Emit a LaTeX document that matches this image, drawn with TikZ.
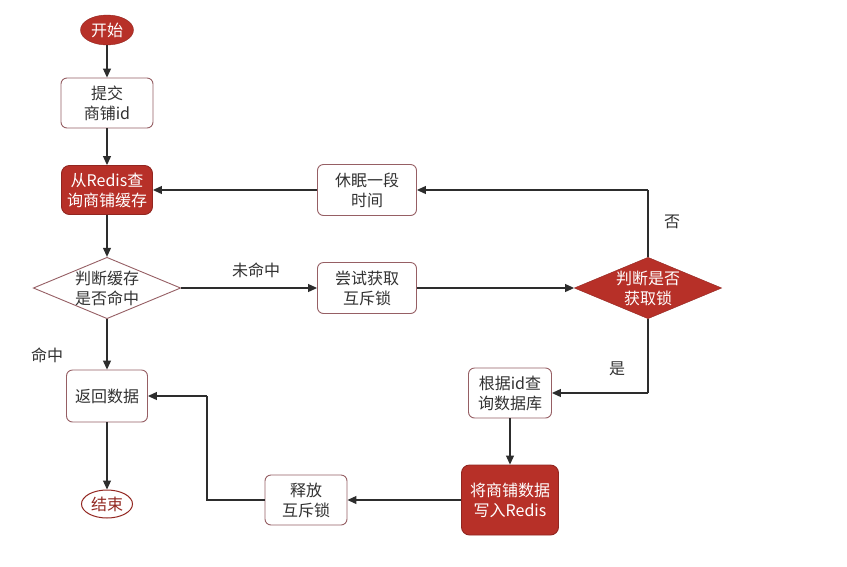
\documentclass[tikz,border=0pt]{standalone}
\usepackage{fontspec}
\setmainfont{Noto Sans CJK SC}
\usetikzlibrary{arrows.meta,shapes.geometric}
\definecolor{dred}{RGB}{183,48,40}
\definecolor{bord}{RGB}{150,95,100}
\definecolor{txt}{RGB}{50,50,50}
\definecolor{ln}{RGB}{45,45,45}
\begin{document}
\begin{tikzpicture}[x=1pt,y=-1pt,
  font=\fontsize{16}{20}\selectfont,
  box/.style={draw=bord,line width=0.9pt,rounded corners=6pt,fill=white,text=txt,align=center,inner sep=0pt},
  redbox/.style={draw=dred!80!black,line width=0.9pt,rounded corners=8pt,fill=dred,text=white,align=center,inner sep=0pt},
  dec/.style={diamond,draw=bord,line width=0.9pt,fill=white,text=txt,align=center,inner sep=0pt,aspect=2.4},
  lbl/.style={text=txt,inner sep=0pt},
  arr/.style={draw=ln,line width=1.1pt,-{Triangle[length=9pt,width=8pt]}},
  ln/.style={draw=ln,line width=1.1pt}]
\fill[white] (0,0) rectangle (847,566);
\useasboundingbox (0,0) rectangle (847,566);
\node[ellipse,draw=dred!80!black,fill=dred,text=white,minimum width=53pt,minimum height=30pt,inner sep=0pt] (start) at (107,30) {开始};
\node[box,minimum width=92pt,minimum height=50pt] (submit) at (107,103) {提交\\商铺id};
\node[redbox,minimum width=91pt,minimum height=49pt] (query) at (107,190) {从Redis查\\询商铺缓存};
\node[dec,minimum width=145pt,minimum height=60pt] (hit) at (107,288) {判断缓存\\是否命中};
\node[box,minimum width=81pt,minimum height=52pt] (ret) at (107,396) {返回数据};
\node[ellipse,draw=dred!80!black,line width=1pt,fill=white,text=dred!80!black,minimum width=51pt,minimum height=28pt,inner sep=0pt] (end) at (107,504) {结束};
\node[box,minimum width=99pt,minimum height=51pt] (sleep) at (367,190) {休眠一段\\时间};
\node[box,minimum width=99pt,minimum height=51pt] (try) at (367,288) {尝试获取\\互斥锁};
\node[diamond,draw=dred!80!black,fill=dred,text=white,align=center,inner sep=0pt,aspect=2.4,minimum width=143pt,minimum height=60pt] (got) at (648,288) {判断是否\\获取锁};
\node[box,minimum width=83pt,minimum height=50pt] (db) at (510,393) {根据id查\\询数据库};
\node[redbox,minimum width=97pt,minimum height=70pt] (write) at (510,500) {将商铺数据\\写入Redis};
\node[box,minimum width=82pt,minimum height=50pt] (rel) at (306,500) {释放\\互斥锁};
\coordinate (c1) at (648,190);
\coordinate (c2) at (648,393);
\coordinate (c3) at (207,500);
\coordinate (c4) at (207,396);
\draw[arr] (start) -- (submit);
\draw[arr] (submit) -- (query);
\draw[arr] (query) -- (hit);
\draw[arr] (hit) -- (ret);
\draw[arr] (ret) -- (end);
\draw[arr] (hit.east) -- (try.west);
\draw[arr] (try.east) -- (got.west);
\draw[ln] (got.north) -- (c1);
\draw[arr] (c1) -- (sleep.east);
\draw[arr] (sleep.west) -- (query.east);
\draw[ln] (got.south) -- (c2);
\draw[arr] (c2) -- (db.east);
\draw[arr] (db) -- (write);
\draw[arr] (write.west) -- (rel.east);
\draw[ln] (rel.west) -- (c3) -- (c4);
\draw[arr] (c4) -- (ret.east);
\node[lbl] (l1) at (47,355) {命中};
\node[lbl] (l2) at (256,270) {未命中};
\node[lbl] (l3) at (672,222) {否};
\node[lbl] (l4) at (617,369) {是};
\end{tikzpicture}
\end{document}
